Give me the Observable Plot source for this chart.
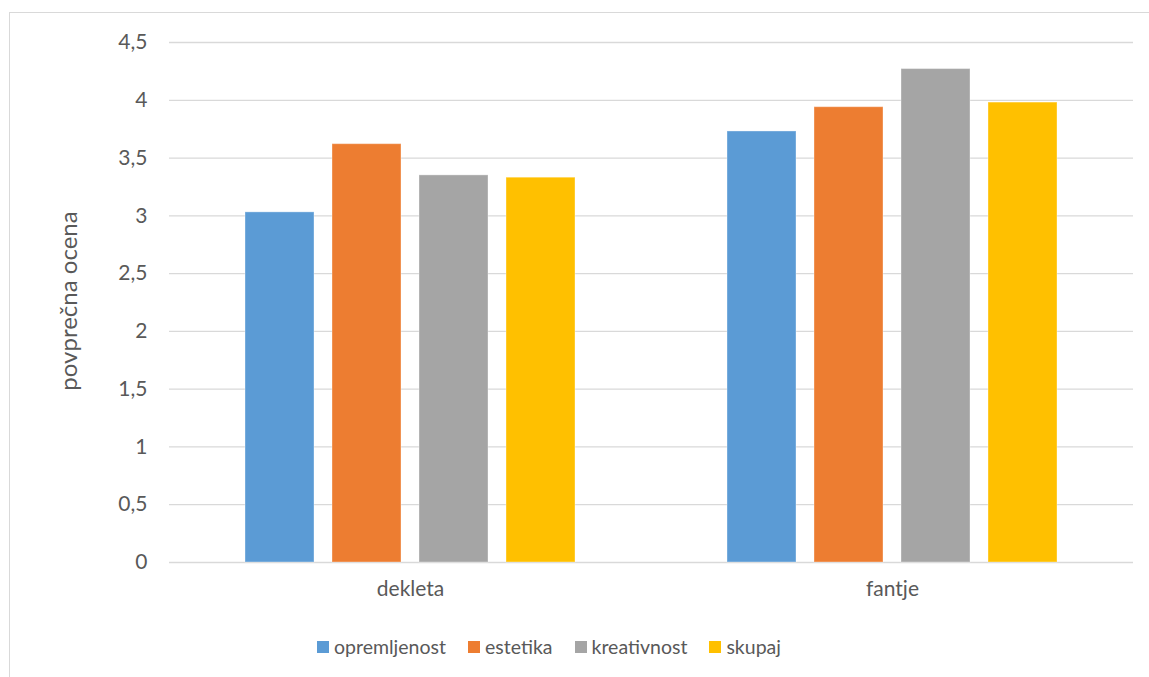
<!DOCTYPE html>
<html>
<head>
<meta charset="utf-8">
<script src="https://cdn.jsdelivr.net/npm/d3@7"></script>
<script src="https://cdn.jsdelivr.net/npm/@observablehq/plot@0.6"></script>
<style>
  html, body { margin: 0; padding: 0; background: #fff; }
  #chart {
    position: relative; width: 1149px; height: 677px; overflow: hidden;
    font-family: Lato, "Open Sans", sans-serif; color: #595959;
  }
  #frame {
    position: absolute; left: 9px; top: 12px; width: 1200px; height: 700px;
    border: 1px solid #d9d9d9; box-sizing: border-box;
  }
  #plot { position: absolute; left: 0; top: 0; }
  #ytitle {
    position: absolute; left: 67px; top: 301px; font-size: 24px; white-space: nowrap;
    transform: translate(-50%, -50%) rotate(-90deg);
  }
  #legend {
    position: absolute; left: 317px; top: 636px; display: flex; gap: 22px;
    font-size: 19.5px; line-height: 22px;
  }
  #legend .item { display: flex; align-items: center; gap: 5px; }
  #legend .sw { width: 12px; height: 12px; display: inline-block; }
</style>
</head>
<body>
<div id="chart">
  <div id="frame"></div>
  <div id="plot"></div>
  <div id="ytitle">povprečna ocena</div>
  <div id="legend"></div>
</div>
<script>
// Groups and rating categories
const groups = ["dekleta", "fantje"];
const categories = ["opremljenost", "estetika", "kreativnost", "skupaj"];
const colors = ["#5B9BD5", "#ED7D31", "#A5A5A5", "#FFC000"];

// Average ratings per category, one array per group
const dekleta = [3.03, 3.62, 3.35, 3.33];
const fantje = [3.73, 3.94, 4.27, 3.98];

const yTicks = [0, 0.5, 1, 1.5, 2, 2.5, 3, 3.5, 4, 4.5];

const rows = [];
categories.forEach((c, i) => {
  rows.push({group: "dekleta", category: c, value: dekleta[i]});
  rows.push({group: "fantje", category: c, value: fantje[i]});
});

const fmt = d => String(d).replace(".", ",");

const chart = Plot.plot({
  width: 1149,
  height: 610,
  marginLeft: 169,
  marginRight: 16,
  marginTop: 42,
  marginBottom: 48,
  style: {fontFamily: "Lato, 'Open Sans', sans-serif", fontSize: "21px", color: "#595959", background: "transparent"},
  fx: {domain: groups, padding: 0, axis: "bottom", label: null, tickSize: 0, tickPadding: 19},
  x: {domain: categories, paddingInner: 0.21, paddingOuter: 0.86, axis: null},
  y: {domain: [0, 4.5], ticks: yTicks, tickFormat: fmt, tickSize: 0, tickPadding: 22, label: null, grid: false},
  color: {domain: categories, range: colors},
  marks: [
    Plot.ruleY(yTicks, {y: d => d, stroke: "#d9d9d9", strokeWidth: 1.3, strokeOpacity: 1}),
    Plot.barY(rows, {fx: "group", x: "category", y: "value", fill: "category",
      stroke: "#ffffff", strokeOpacity: 0.35, strokeWidth: 1})
  ]
});
document.getElementById("plot").appendChild(chart);

// Legend row under the chart
const legend = document.getElementById("legend");
categories.forEach((c, i) => {
  const item = document.createElement("span");
  item.className = "item";
  const sw = document.createElement("span");
  sw.className = "sw";
  sw.style.background = colors[i];
  const label = document.createElement("span");
  label.textContent = c;
  item.appendChild(sw);
  item.appendChild(label);
  legend.appendChild(item);
});
</script>
</body>
</html>
